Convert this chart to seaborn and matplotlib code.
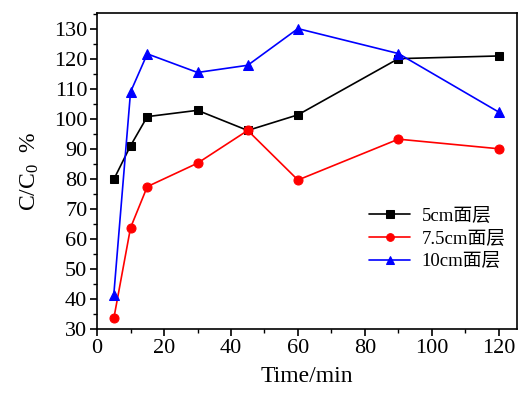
import pandas as pd
import numpy as np
import matplotlib
matplotlib.use("Agg")
import matplotlib.pyplot as plt
import seaborn as sns
from matplotlib.ticker import MultipleLocator

# Datos
time_min = [5, 10, 15, 30, 45, 60, 90, 120]
c5 = [79.8, 91.0, 100.7, 102.8, 96.1, 101.3, 120.0, 120.9]
c75 = [33.5, 63.7, 77.4, 85.2, 96.1, 79.6, 93.2, 90.0]
c10 = [41.4, 108.9, 121.6, 115.4, 117.8, 130.0, 121.7, 102.2]
labels = ["5cm面层", "7.5cm面层", "10cm面层"]

sns.set_style("ticks")
plt.rcParams['font.family'] = ['Liberation Serif', 'Noto Sans CJK SC']
plt.rcParams['mathtext.fontset'] = 'custom'
plt.rcParams['mathtext.rm'] = 'Liberation Serif'
plt.rcParams['mathtext.it'] = 'Liberation Serif'
plt.rcParams['mathtext.default'] = 'regular'
plt.rcParams['text.color'] = 'black'
plt.rcParams['axes.labelcolor'] = 'black'
plt.rcParams['xtick.color'] = 'black'
plt.rcParams['ytick.color'] = 'black'
plt.rcParams['axes.edgecolor'] = 'black'

fig = plt.figure(figsize=(5.19, 4.0), dpi=100)
ax = fig.add_axes([0.187, 0.1775, 0.809, 0.79])

series = [(c5, "black", "s", 6), (c75, "red", "o", 6.5), (c10, "blue", "^", 7)]
for (vals, col, mk, ms), lab in zip(series, labels):
    df = pd.DataFrame({"Time": time_min, "C": vals})
    sns.lineplot(data=df, x="Time", y="C", ax=ax, color=col, marker=mk,
                 markersize=ms, markeredgecolor=col, linewidth=1.2, label=lab)

ax.set_xlim(0, 125.4)
ax.set_ylim(30, 135.2)
ax.xaxis.set_major_locator(MultipleLocator(20))
ax.xaxis.set_minor_locator(MultipleLocator(10))
ax.yaxis.set_major_locator(MultipleLocator(10))
ax.yaxis.set_minor_locator(MultipleLocator(5))
ax.tick_params(which='major', direction='out', length=5, width=1.2, labelsize=16, pad=2)
ax.tick_params(which='minor', direction='out', length=3, width=1.0)
for s in ax.spines.values():
    s.set_linewidth(1.2)

ax.set_xlabel("Time/min", fontsize=17, labelpad=6)
ax.set_ylabel("C/C$_0$  %", fontsize=17, labelpad=9)

ax.legend(loc='lower right', bbox_to_anchor=(1.0, 0.15), frameon=False,
          fontsize=13.5, handlelength=2.2, borderaxespad=0.2, labelspacing=0.3,
          markerscale=0.85, handletextpad=0.6)

fig.savefig("out.png", dpi=100)
